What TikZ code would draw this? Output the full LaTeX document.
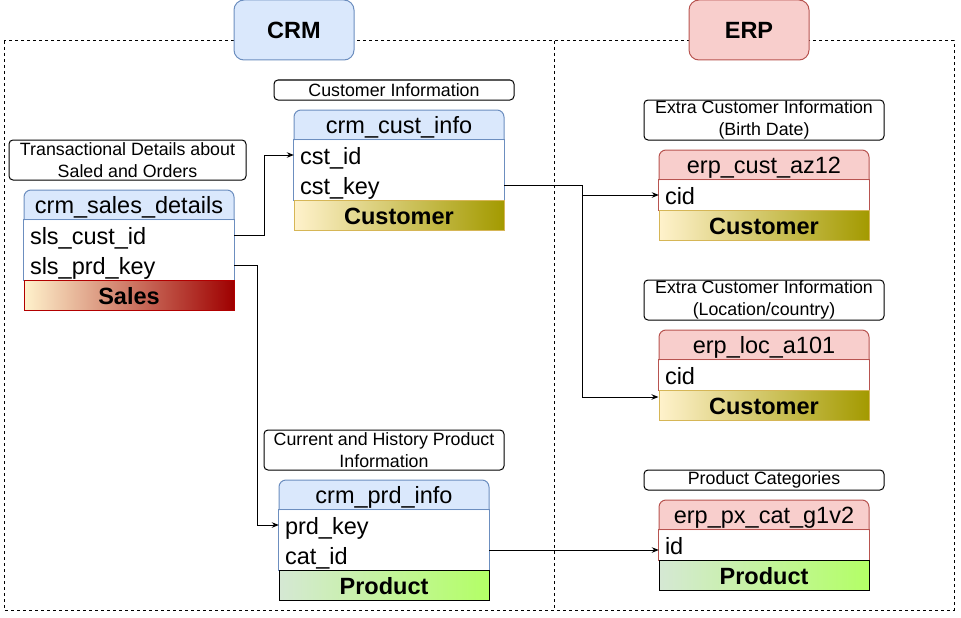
\documentclass[tikz,border=0pt]{standalone}
\usepackage{fontspec}
\setmainfont{Liberation Sans}
\usetikzlibrary{arrows.meta}
\definecolor{crmfill}{HTML}{DAE8FC}
\definecolor{crmdraw}{HTML}{6C8EBF}
\definecolor{erpfill}{HTML}{F8CECC}
\definecolor{erpdraw}{HTML}{B85450}
\definecolor{custL}{HTML}{FFF2CC}
\definecolor{custR}{HTML}{A39A00}
\definecolor{custD}{HTML}{D6B656}
\definecolor{salesR}{HTML}{9E0000}
\definecolor{salesD}{HTML}{B20000}
\definecolor{prodL}{HTML}{D5E8D4}
\definecolor{prodR}{HTML}{B3FF66}
\tikzset{
  bigfont/.style={font=\fontsize{23.5}{28}\selectfont},
  sec/.style={rounded corners=10pt, line width=1pt, minimum width=120pt, minimum height=60pt, inner sep=0pt, font=\fontsize{23.5}{28}\selectfont\bfseries},
  lbl/.style={draw=black, fill=white, rounded corners=4pt, line width=1pt, inner sep=0pt, minimum width=240pt, align=center, font=\fontsize{17.8}{21.7}\selectfont},
  hdrtext/.style={bigfont, inner sep=0pt, text height=17.5pt, text depth=1.5pt},
  rowbox/.style={bigfont, minimum height=30pt, text width=198pt, inner xsep=6pt, inner ysep=0pt, align=left, text height=18pt, text depth=0pt},
  foot/.style={font=\fontsize{23.5}{28}\selectfont\bfseries, minimum width=210pt, minimum height=30pt, inner sep=0pt, line width=1pt, text height=18.5pt, text depth=0pt},
  conn/.style={draw=black, line width=1pt, -{Stealth[length=7pt,width=5.5pt]}},
}
\newcommand\dbhead[6]{%
  \path[fill=#4, draw=#5, rounded corners=7pt, line width=1pt] (#2,#3+30) -- (#2,#3) -- (#2+210,#3) -- (#2+210,#3+30);
  \node[hdrtext] (#1) at (#2+105,#3+15) {#6};}
\begin{document}
\begin{tikzpicture}[x=1pt,y=-1pt]
\useasboundingbox (0,0) rectangle (961,618);
% frames
\draw[line width=1pt, dash pattern=on 3pt off 3pt] (4,41) rectangle (954,610);
\draw[line width=1pt, dash pattern=on 3pt off 3pt] (554,41) -- (554,610);
\node[sec, fill=crmfill, draw=crmdraw] (crm) at (294,30) {CRM};
\node[sec, fill=erpfill, draw=erpdraw] (erp) at (749,30) {ERP};

% labels
\node[lbl, minimum height=20pt] (l-ci) at (394,90) {Customer Information};
\node[lbl, minimum height=40pt, minimum width=237pt] (l-ss) at (127.5,160) {Transactional Details about\\Saled and Orders};
\node[lbl, minimum height=40pt] (l-ea) at (764,120) {Extra Customer Information\\(Birth Date)};
\node[lbl, minimum height=40pt] (l-el) at (764,300) {Extra Customer Information\\(Location/country)};
\node[lbl, minimum height=40pt] (l-pi) at (384,450) {Current and History Product\\Information};
\node[lbl, minimum height=20pt] (l-eg) at (764,480) {Product Categories};

% crm_cust_info
\dbhead{ci-h}{294}{110}{crmfill}{crmdraw}{crm\_cust\_info}
\node[rowbox] (ci-r1) at (399,155) {cst\_id};
\node[rowbox] (ci-r2) at (399,185) {cst\_key};
\draw[crmdraw, line width=1pt] (ci-r1.north west) rectangle (ci-r2.south east);
\node[foot, left color=custL, right color=custR, draw=custD] (ci-f) at (399,215) {Customer};

% crm_sales_details
\dbhead{ss-h}{24}{190}{crmfill}{crmdraw}{crm\_sales\_details}
\node[rowbox] (ss-r1) at (129,235) {sls\_cust\_id};
\node[rowbox] (ss-r2) at (129,265) {sls\_prd\_key};
\draw[crmdraw, line width=1pt] (ss-r1.north west) rectangle (ss-r2.south east);
\node[foot, left color=custL, right color=salesR, draw=salesD] (ss-f) at (129,295) {Sales};

% crm_prd_info
\dbhead{pi-h}{279}{480}{crmfill}{crmdraw}{crm\_prd\_info}
\node[rowbox] (pi-r1) at (384,525) {prd\_key};
\node[rowbox] (pi-r2) at (384,555) {cat\_id};
\draw[crmdraw, line width=1pt] (pi-r1.north west) rectangle (pi-r2.south east);
\node[foot, left color=prodL, right color=prodR, draw=black] (pi-f) at (384,585) {Product};

% erp_cust_az12
\dbhead{ea-h}{659}{150}{erpfill}{erpdraw}{erp\_cust\_az12}
\node[rowbox] (ea-r1) at (764,195) {cid};
\draw[erpdraw, line width=1pt] (ea-r1.north west) rectangle (ea-r1.south east);
\node[foot, left color=custL, right color=custR, draw=custD] (ea-f) at (764,225) {Customer};

% erp_loc_a101
\dbhead{el-h}{659}{330}{erpfill}{erpdraw}{erp\_loc\_a101}
\node[rowbox] (el-r1) at (764,375) {cid};
\draw[erpdraw, line width=1pt] (el-r1.north west) rectangle (el-r1.south east);
\node[foot, left color=custL, right color=custR, draw=custD] (el-f) at (764,405) {Customer};

% erp_px_cat_g1v2
\dbhead{eg-h}{659}{500}{erpfill}{erpdraw}{erp\_px\_cat\_g1v2}
\node[rowbox] (eg-r1) at (764,545) {id};
\draw[erpdraw, line width=1pt] (eg-r1.north west) rectangle (eg-r1.south east);
\node[foot, left color=prodL, right color=prodR, draw=black] (eg-f) at (764,575) {Product};

% connectors
\draw[conn] (ss-r1.east) -- ++(30,0) |- (ci-r1.west);
\draw[conn] (ss-r2.east) -- ++(23,0) |- (pi-r1.west);
\draw[conn] (ci-r2.east) -- ++(78,0) |- (ea-r1.west);
\draw[conn] (ci-r2.east) -- ++(78,0) |- ([yshift=-7.5pt]el-f.north west);
\draw[conn] ([yshift=5pt]pi-r2.east) -- ([yshift=-5pt]eg-r1.west);
\end{tikzpicture}
\end{document}
